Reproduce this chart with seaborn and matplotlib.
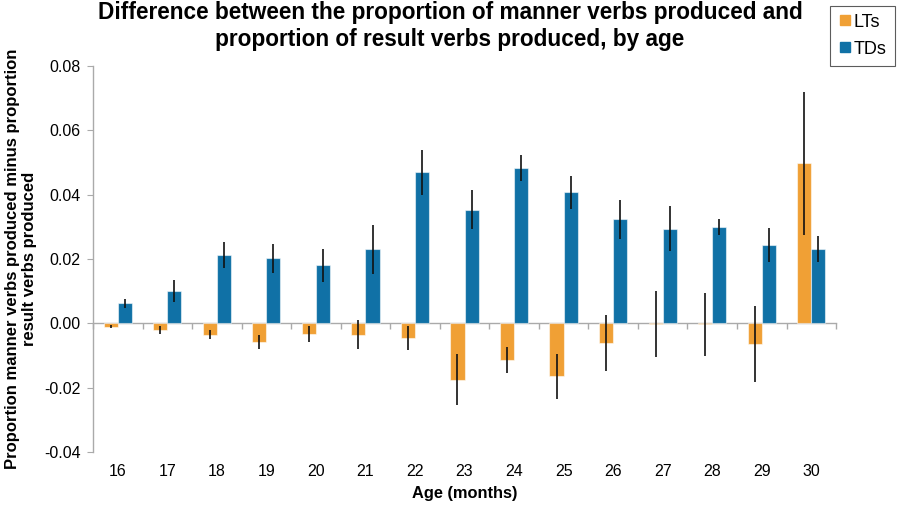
import matplotlib
matplotlib.use("Agg")
import matplotlib.pyplot as plt
import seaborn as sns
import pandas as pd
import numpy as np

ages = [16, 17, 18, 19, 20, 21, 22, 23, 24, 25, 26, 27, 28, 29, 30]
lt_vals = [-0.001, -0.002, -0.0035, -0.0058, -0.0033, -0.0035, -0.0045, -0.0175,
           -0.0115, -0.0165, -0.006, -0.0003, -0.0003, -0.0065, 0.0497]
lt_err = [0.0005, 0.0013, 0.0013, 0.0022, 0.0025, 0.0045, 0.0037, 0.008,
          0.004, 0.007, 0.0087, 0.0102, 0.0098, 0.0118, 0.0222]
td_vals = [0.0062, 0.010, 0.0213, 0.0203, 0.018, 0.023, 0.047, 0.0353,
           0.0482, 0.0407, 0.0323, 0.0294, 0.030, 0.0243, 0.023]
td_err = [0.0015, 0.0034, 0.004, 0.0045, 0.005, 0.0077, 0.007, 0.006,
          0.004, 0.005, 0.006, 0.007, 0.0025, 0.0053, 0.004]
groups = ["LTs", "TDs"]
colors = {"LTs": "#F0A035", "TDs": "#1071A6"}

df = pd.DataFrame({
    "age": [str(a) for a in ages] * 2,
    "value": lt_vals + td_vals,
    "group": ["LTs"] * len(ages) + ["TDs"] * len(ages),
})
errs = {"LTs": lt_err, "TDs": td_err}

sns.set_style("white")
plt.rcParams["font.family"] = ["Liberation Sans", "DejaVu Sans"]
for k in ["text.color", "axes.labelcolor", "xtick.color", "ytick.color"]:
    plt.rcParams[k] = "black"

fig = plt.figure(figsize=(9, 5.07), dpi=100)
ax = fig.add_axes([0.1033, 0.1085, 0.8257, 0.7613])

sns.barplot(data=df, x="age", y="value", hue="group", hue_order=groups,
            palette=colors, saturation=1, width=0.57, ax=ax, errorbar=None,
            edgecolor=(1, 1, 1, 0.55), linewidth=0.8, legend=False)

for cont, g in zip(ax.containers, groups):
    xs = [p.get_x() + p.get_width() / 2 for p in cont.patches]
    hs = [p.get_height() for p in cont.patches]
    ax.errorbar(xs, hs, yerr=errs[g], fmt="none", ecolor="#111111",
                elinewidth=1.2, capsize=0, zorder=5)

ax.set_xlim(-0.5, len(ages) - 0.5)
ax.set_ylim(-0.04, 0.08)
ax.set_yticks(np.arange(-0.04, 0.0801, 0.02))
ax.yaxis.set_major_formatter(matplotlib.ticker.FormatStrFormatter("%.2f"))
ax.tick_params(axis="y", direction="out", length=4, color="#aaaaaa",
               labelcolor="black", labelsize=11.5, left=True, pad=5)
ax.tick_params(axis="x", length=0, labelsize=11.5, labelcolor="black", pad=9)

for s in ["top", "right", "bottom"]:
    ax.spines[s].set_visible(False)
ax.spines["left"].set_color("#aaaaaa")
ax.spines["left"].set_linewidth(1.0)

# zero axis with boundary ticks
sec = ax.secondary_xaxis(1 / 3)
sec.set_xticks(np.arange(len(ages) + 1) - 0.5)
sec.set_xticklabels([])
sec.tick_params(direction="out", length=4, color="#aaaaaa", width=1.0)
sec.spines["bottom"].set_color("#aaaaaa")
sec.spines["bottom"].set_linewidth(1.0)
for s in ["top", "left", "right"]:
    sec.spines[s].set_visible(False)

ax.set_xlabel("Age (months)", fontsize=11.8, fontweight="bold", labelpad=5)
ax.set_ylabel("Proportion manner verbs produced minus proportion\nresult verbs produced",
              fontsize=12, fontweight="bold", labelpad=5, linespacing=1.12)
fig.text(0.5, 1 - 1.0 / 507,
         "Difference between the proportion of manner verbs produced and\n"
         "proportion of result verbs produced, by age",
         ha="center", va="top", fontsize=16.3, fontweight="bold", linespacing=1.22)

handles = [matplotlib.lines.Line2D([], [], marker="s", linestyle="none",
                                   markersize=7, color=colors[g]) for g in groups]
leg = fig.legend(handles, groups, loc="upper right", bbox_to_anchor=(0.998, 0.996),
                 frameon=True, fancybox=False, fontsize=13, handletextpad=0.15,
                 borderpad=0.45, labelspacing=0.55, handlelength=0.7,
                 borderaxespad=0.2)
leg.get_frame().set_edgecolor("#333333")
leg.get_frame().set_linewidth(0.8)

fig.savefig("out.png", dpi=100)
